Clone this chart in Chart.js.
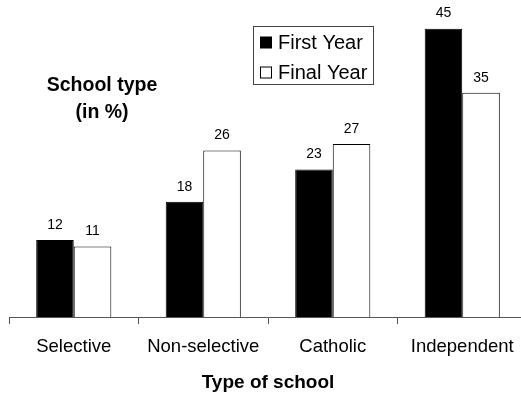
<!DOCTYPE html>
<html>
<head>
<meta charset="utf-8">
<script src="https://cdn.jsdelivr.net/npm/chart.js@4"></script>
<style>
  html, body { margin: 0; padding: 0; background: #fff; overflow: hidden; }
  #wrap { width: 521px; height: 396px; overflow: hidden; position: relative; }
  canvas { display: block; }
</style>
</head>
<body>
<div id="wrap"><canvas id="c" width="530" height="396"></canvas></div>
<script>
// School type shares, first year vs final year (percent)
const categories = ['Selective', 'Non-selective', 'Catholic', 'Independent'];
const firstYear = [12, 18, 23, 45];
const finalYear = [11, 26, 27, 35];
const seriesNames = ['First Year', 'Final Year'];
const titleLines = ['School type', '(in %)'];
const axisTitle = 'Type of school';

const FONT = '"Liberation Sans", Arial, sans-serif';

// Value labels above each bar
const valueLabels = {
  id: 'valueLabels',
  afterDatasetsDraw(chart) {
    const ctx = chart.ctx;
    ctx.save();
    ctx.font = '14px ' + FONT;
    ctx.fillStyle = '#000';
    ctx.textAlign = 'center';
    ctx.textBaseline = 'middle';
    chart.data.datasets.forEach((ds, di) => {
      chart.getDatasetMeta(di).data.forEach((bar, i) => {
        ctx.fillText(String(ds.data[i]), bar.x, bar.y - 15);
      });
    });
    ctx.restore();
  }
};

// Side title and boxed legend
const annotations = {
  id: 'annotations',
  afterDraw(chart) {
    const ctx = chart.ctx;
    ctx.save();
    ctx.fillStyle = '#000';
    ctx.font = 'bold 19.5px ' + FONT;
    ctx.textAlign = 'center';
    ctx.textBaseline = 'middle';
    titleLines.forEach((t, i) => ctx.fillText(t, 102, 86 + i * 27));

    // legend box
    ctx.strokeStyle = '#444';
    ctx.lineWidth = 1;
    ctx.strokeRect(253.5, 26.5, 120, 58);
    ctx.font = '20px ' + FONT;
    ctx.textAlign = 'left';
    chart.data.datasets.forEach((ds, i) => {
      const cy = 43 + i * 30;
      ctx.fillStyle = ds.backgroundColor;
      ctx.fillRect(260.5, cy - 6, 11, 11);
      ctx.strokeStyle = '#000';
      ctx.strokeRect(260.5, cy - 6, 11, 11);
      ctx.fillStyle = '#000';
      ctx.fillText(ds.label, 278, cy);
    });
    ctx.restore();
  }
};

new Chart(document.getElementById('c'), {
  type: 'bar',
  data: {
    labels: categories,
    datasets: [
      { label: seriesNames[0], data: firstYear, backgroundColor: '#000', borderColor: '#000', borderWidth: 1 },
      { label: seriesNames[1], data: finalYear, backgroundColor: '#fff', borderColor: '#000', borderWidth: 1 }
    ]
  },
  options: {
    responsive: false,
    animation: false,
    devicePixelRatio: 1,
    layout: { padding: { left: 9, right: 3, top: 3, bottom: 0 } },
    datasets: { bar: { categoryPercentage: 0.58, barPercentage: 1.0 } },
    plugins: {
      legend: { display: false },
      title: { display: false },
      tooltip: { enabled: false }
    },
    scales: {
      y: { display: false, min: 0, max: 49 },
      x: {
        afterFit(scale) { scale.height = 79; },
        grid: { offset: true, drawOnChartArea: false, drawTicks: true, tickLength: 7, color: '#555' },
        border: { display: true, color: '#555', width: 1 },
        ticks: { color: '#000', padding: 12, font: { family: FONT, size: 18.5 } },
        title: {
          display: true,
          text: axisTitle,
          color: '#000',
          font: { family: FONT, size: 19, weight: 'bold' },
          padding: { top: 0, bottom: 2 }
        }
      }
    }
  },
  plugins: [valueLabels, annotations]
});
</script>
</body>
</html>
